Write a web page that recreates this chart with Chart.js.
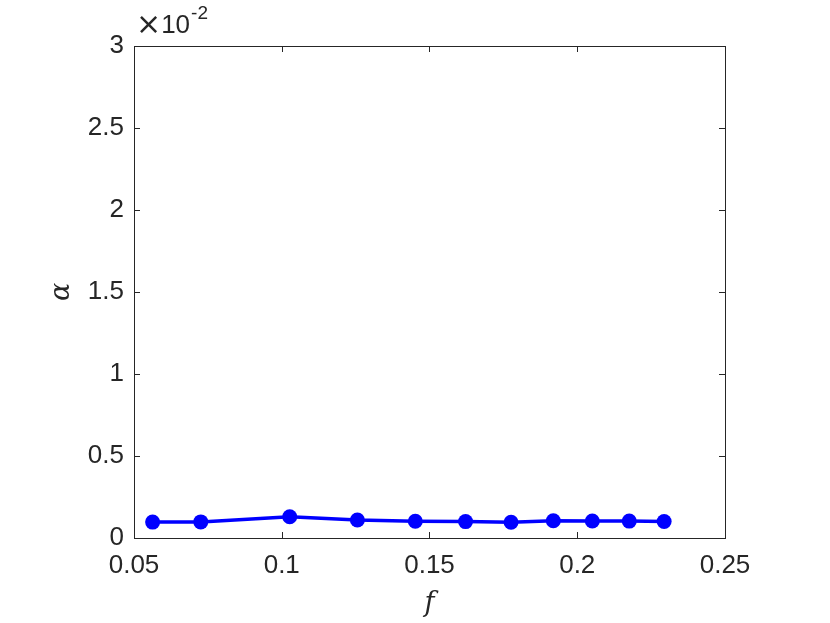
<!DOCTYPE html>
<html>
<head>
<meta charset="utf-8">
<script src="https://cdn.jsdelivr.net/npm/chart.js@4.4.0/dist/chart.umd.min.js"></script>
<style>
  html, body { margin: 0; padding: 0; background: #fff; }
  #wrap { width: 830px; height: 623px; position: relative; }
</style>
</head>
<body>
<div id="wrap"><canvas id="c" width="830" height="623"></canvas></div>
<script>
// values (alpha in units of 1e-2)
const fValues = [0.0563, 0.0726, 0.1027, 0.1256, 0.1452, 0.1622, 0.1776, 0.1919, 0.2051, 0.2176, 0.2294];
const alphaValues = [0.097, 0.098, 0.130, 0.110, 0.102, 0.100, 0.096, 0.105, 0.104, 0.103, 0.101];
const xTicks = [0.05, 0.1, 0.15, 0.2, 0.25];
const yTicks = [0, 0.5, 1, 1.5, 2, 2.5, 3];

const tickFont = '26px "Liberation Sans", Arial, sans-serif';
const axisColor = '#262626';

// MATLAB-style box with inward ticks and axis labels
const boxPlugin = {
    id: 'matlabBox',
    afterDraw(chart) {
        const ctx = chart.ctx;
        const a = chart.chartArea;
        const xs = chart.scales.x, ys = chart.scales.y;
        ctx.save();
        ctx.strokeStyle = axisColor;
        ctx.lineWidth = 1;
        ctx.strokeRect(a.left + 0.5, a.top + 0.5, a.right - a.left, a.bottom - a.top);
        const tl = 6;
        ctx.beginPath();
        xTicks.forEach(v => {
            const px = Math.round(xs.getPixelForValue(v)) + 0.5;
            ctx.moveTo(px, a.bottom); ctx.lineTo(px, a.bottom - tl);
            ctx.moveTo(px, a.top); ctx.lineTo(px, a.top + tl);
        });
        yTicks.forEach(v => {
            const py = Math.round(ys.getPixelForValue(v)) + 0.5;
            ctx.moveTo(a.left, py); ctx.lineTo(a.left + tl, py);
            ctx.moveTo(a.right, py); ctx.lineTo(a.right - tl, py);
        });
        ctx.stroke();

        // tick labels
        ctx.fillStyle = axisColor;
        ctx.font = tickFont;
        ctx.textAlign = 'center';
        ctx.textBaseline = 'top';
        xTicks.forEach(v => {
            ctx.fillText(String(v), xs.getPixelForValue(v), a.bottom + 15);
        });
        ctx.textAlign = 'right';
        ctx.textBaseline = 'middle';
        yTicks.forEach(v => {
            ctx.fillText(String(v), a.left - 10, ys.getPixelForValue(v));
        });

        // exponent label
        ctx.textAlign = 'left';
        ctx.textBaseline = 'alphabetic';
        ctx.font = '30px "DejaVu Sans", sans-serif';
        ctx.fillText('\u00d7', a.left + 2, a.top - 12);
        const wx = ctx.measureText('\u00d7').width;
        ctx.font = tickFont;
        ctx.fillText('10', a.left + 2 + wx, a.top - 13);
        const w = wx + ctx.measureText('10').width;
        ctx.font = '19px "Liberation Sans", Arial, sans-serif';
        ctx.fillText('-2', a.left + 3 + w, a.top - 27);

        // axis titles
        ctx.font = 'italic 27px "DejaVu Serif", "Liberation Serif", serif';
        ctx.textAlign = 'center';
        ctx.textBaseline = 'middle';
        ctx.fillText('f', (a.left + a.right) / 2, a.bottom + 66);
        ctx.save();
        ctx.translate(a.left - 72, (a.top + a.bottom) / 2);
        ctx.rotate(-Math.PI / 2);
        ctx.fillText('\u03b1', 0, 0);
        ctx.restore();
        ctx.restore();
    }
};

new Chart(document.getElementById('c'), {
    type: 'line',
    data: {
        datasets: [{
            data: fValues.map((f, i) => ({ x: f, y: alphaValues[i] })),
            borderColor: '#0000ff',
            backgroundColor: '#0000ff',
            borderWidth: 3.5,
            pointRadius: 7.5,
            pointHoverRadius: 7.5,
            pointBorderWidth: 0,
            tension: 0
        }]
    },
    options: {
        responsive: false,
        animation: false,
        layout: { padding: { left: 0, right: 105, top: 46, bottom: 0 } },
        plugins: { legend: { display: false }, tooltip: { enabled: false } },
        scales: {
            x: {
                type: 'linear', min: 0.05, max: 0.25,
                grid: { display: false },
                border: { display: false },
                ticks: { display: false },
                afterFit(s) { s.height = 85; }
            },
            y: {
                type: 'linear', min: 0, max: 3,
                grid: { display: false },
                border: { display: false },
                ticks: { display: false },
                afterFit(s) { s.width = 134; }
            }
        }
    },
    plugins: [boxPlugin]
});
</script>
</body>
</html>
